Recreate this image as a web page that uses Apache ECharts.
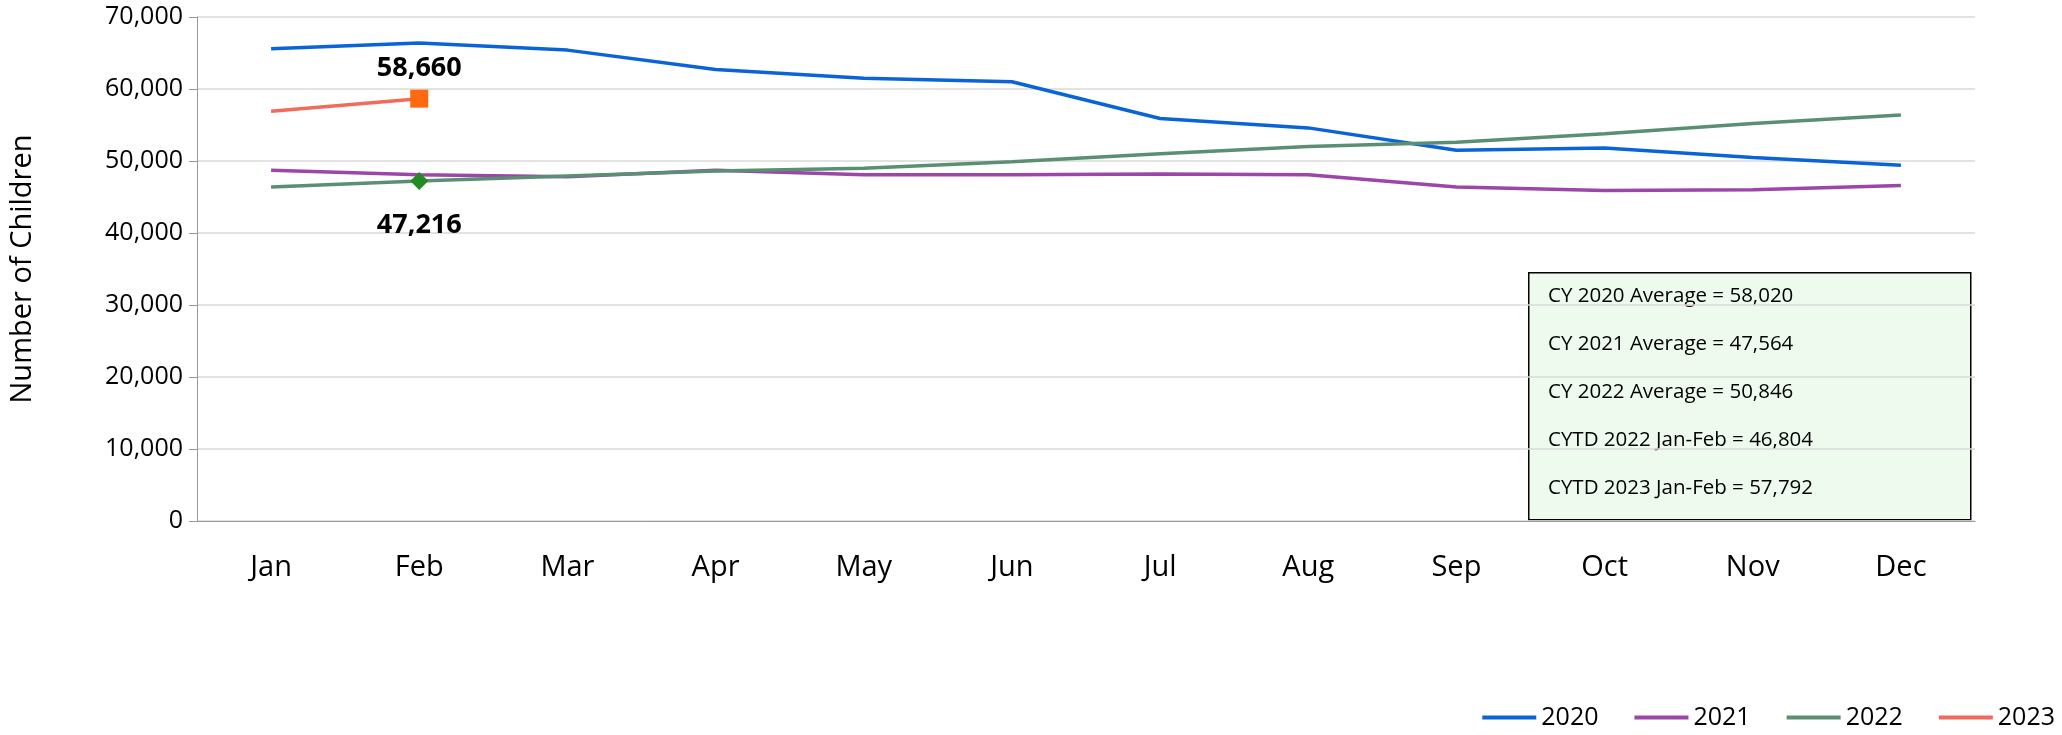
<!DOCTYPE html>
<html>
<head>
<meta charset="utf-8">
<script src="https://cdn.jsdelivr.net/npm/echarts@6/dist/echarts.min.js"></script>
<style>html,body{margin:0;background:#fff}#chart{width:2062px;height:735px}</style>
</head>
<body>
<div id="chart"></div>
<script>
var months = ['Jan', 'Feb', 'Mar', 'Apr', 'May', 'Jun', 'Jul', 'Aug', 'Sep', 'Oct', 'Nov', 'Dec'];
var y2020 = [65600, 66400, 65400, 62700, 61500, 61000, 55900, 54600, 51500, 51800, 50500, 49400];
var y2021 = [48700, 48100, 47800, 48700, 48100, 48100, 48200, 48100, 46400, 45900, 46000, 46600];
var y2022 = [46392, 47216, 47900, 48600, 49000, 49900, 51000, 52000, 52600, 53800, 55200, 56400];
var y2023 = [56924, 58660];
var notes = [
    'CY 2020 Average = 58,020',
    'CY 2021 Average = 47,564',
    'CY 2022 Average = 50,846',
    'CYTD 2022 Jan-Feb = 46,804',
    'CYTD 2023 Jan-Feb = 57,792'
];

var font = 'Open Sans';
var myChart = echarts.init(document.getElementById('chart'));

// marker + label only on Feb point
function pointData(arr, idx, symbol, size, color, pos, dist) {
    return arr.map(function (v, i) {
        if (i !== idx) return v;
        return {
            value: v,
            symbol: symbol,
            symbolSize: size,
            itemStyle: {color: color},
            label: {
                show: true, position: pos, distance: dist,
                fontFamily: font, fontWeight: 'bold', fontSize: 27, color: '#000',
                formatter: function (p) { return p.value.toLocaleString('en-US'); }
            }
        };
    });
}

var noteText = notes.map(function (t, i) {
    return {
        type: 'text', left: 1548, top: 286 + i * 48,
        style: {text: t, fontFamily: font, fontSize: 20.5, fill: '#000'}
    };
});

var option = {
    animation: false,
    grid: {left: 196, right: 87, top: 17, bottom: 214},
    legend: {
        right: 2, bottom: 0,
        itemWidth: 54, itemHeight: 4, itemGap: 36,
        icon: 'rect',
        textStyle: {fontFamily: font, fontSize: 25, color: '#000'},
        data: ['2020', '2021', '2022', '2023']
    },
    xAxis: {
        type: 'category',
        data: months,
        axisLine: {lineStyle: {color: '#999'}},
        axisTick: {length: 8, lineStyle: {color: '#999'}},
        axisLabel: {fontFamily: font, fontSize: 29, color: '#000', margin: 32}
    },
    yAxis: {
        type: 'value',
        min: 0, max: 70000, interval: 10000,
        name: 'Number of Children',
        nameLocation: 'middle', nameGap: 160,
        nameTextStyle: {fontFamily: font, fontSize: 29, color: '#000'},
        axisLine: {show: true, lineStyle: {color: '#999'}},
        axisTick: {show: true, length: 8, lineStyle: {color: '#999'}},
        splitLine: {lineStyle: {color: '#d9d9d9', width: 1.5}},
        axisLabel: {
            fontFamily: font, fontSize: 25, color: '#000', margin: 14,
            formatter: function (v) { return v.toLocaleString('en-US'); }
        }
    },
    series: [
        {name: '2020', type: 'line', data: y2020, showSymbol: false, color: '#0a64d8', lineStyle: {width: 3.5}},
        {name: '2021', type: 'line', data: y2021, showSymbol: false, color: '#9b46a8', lineStyle: {width: 3.5}},
        {name: '2022', type: 'line', data: pointData(y2022, 1, 'diamond', 18, '#228b22', 'bottom', 22),
            symbol: 'none', color: '#5a8f73', lineStyle: {width: 3.5}},
        {name: '2023', type: 'line', data: pointData(y2023, 1, 'rect', 18, '#ff6a10', 'top', 8),
            symbol: 'none', color: '#f26a5a', lineStyle: {width: 3.5}}
    ],
    graphic: [{
        type: 'rect', left: 1528, top: 272,
        shape: {width: 442, height: 247},
        style: {fill: '#effaef', stroke: '#000', lineWidth: 1.5}
    }].concat(noteText)
};
myChart.setOption(option);
</script>
</body>
</html>
